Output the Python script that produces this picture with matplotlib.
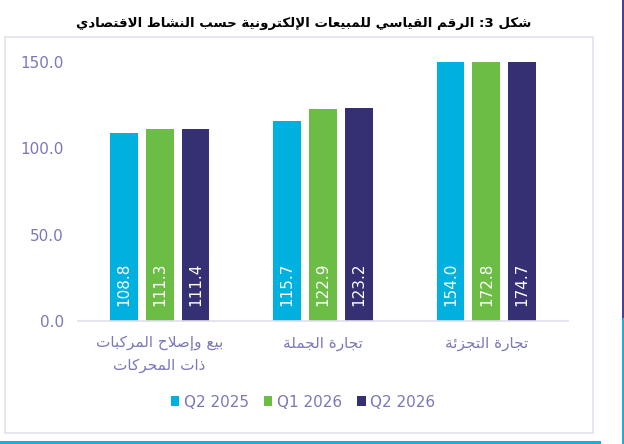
"""
Recreate: e-commerce sales index by economic activity (Figure 3).
Output: out.png (624x444)
"""

import numpy as np
import matplotlib
matplotlib.use("Agg")
import matplotlib.pyplot as plt
from matplotlib.patches import Rectangle

# --- data -----------------------------------------------------------------
TITLE = "شكل 3: الرقم القياسي للمبيعات الإلكترونية حسب النشاط الاقتصادي"
CATEGORIES = [
    "بيع وإصلاح المركبات\nذات المحركات",
    "تجارة الجملة",
    "تجارة التجزئة",
]
SERIES = ["Q2 2025", "Q1 2026", "Q2 2026"]
Q2_2025 = [108.8, 115.7, 154.0]
Q1_2026 = [111.3, 122.9, 172.8]
Q2_2026 = [111.4, 123.2, 174.7]
Y_TICKS = [0, 50, 100, 150]

COLORS = ["#00B0DE", "#6CBD45", "#352F73"]
LAVENDER = "#7B78B8"

# --- minimal arabic shaping (matplotlib has no bidi / joining) -------------
# (isolated, final, initial, medial); two-tuple = joins only to the right
FORMS = {
    "\u0627": (0xFE8D, 0xFE8E), "\u0625": (0xFE87, 0xFE88),
    "\u0623": (0xFE83, 0xFE84), "\u0622": (0xFE81, 0xFE82),
    "\u0628": (0xFE8F, 0xFE90, 0xFE91, 0xFE92),
    "\u0629": (0xFE93, 0xFE94),
    "\u062A": (0xFE95, 0xFE96, 0xFE97, 0xFE98),
    "\u062C": (0xFE9D, 0xFE9E, 0xFE9F, 0xFEA0),
    "\u062D": (0xFEA1, 0xFEA2, 0xFEA3, 0xFEA4),
    "\u062F": (0xFEA9, 0xFEAA), "\u0630": (0xFEAB, 0xFEAC),
    "\u0631": (0xFEAD, 0xFEAE), "\u0632": (0xFEAF, 0xFEB0),
    "\u0633": (0xFEB1, 0xFEB2, 0xFEB3, 0xFEB4),
    "\u0634": (0xFEB5, 0xFEB6, 0xFEB7, 0xFEB8),
    "\u0635": (0xFEB9, 0xFEBA, 0xFEBB, 0xFEBC),
    "\u0637": (0xFEC1, 0xFEC2, 0xFEC3, 0xFEC4),
    "\u0639": (0xFEC9, 0xFECA, 0xFECB, 0xFECC),
    "\u0642": (0xFED5, 0xFED6, 0xFED7, 0xFED8),
    "\u0643": (0xFED9, 0xFEDA, 0xFEDB, 0xFEDC),
    "\u0644": (0xFEDD, 0xFEDE, 0xFEDF, 0xFEE0),
    "\u0645": (0xFEE1, 0xFEE2, 0xFEE3, 0xFEE4),
    "\u0646": (0xFEE5, 0xFEE6, 0xFEE7, 0xFEE8),
    "\u0647": (0xFEE9, 0xFEEA, 0xFEEB, 0xFEEC),
    "\u0648": (0xFEED, 0xFEEE),
    "\u064A": (0xFEF1, 0xFEF2, 0xFEF3, 0xFEF4),
    "\u0626": (0xFE89, 0xFE8A, 0xFE8B, 0xFE8C),
}
LAM_ALEF = {"\u0627": (0xFEFB, 0xFEFC), "\u0625": (0xFEF9, 0xFEFA),
            "\u0623": (0xFEF7, 0xFEF8), "\u0622": (0xFEF5, 0xFEF6)}


def shape_line(text):
    out = []
    i = 0
    while i < len(text):
        c = text[i]
        if c not in FORMS:
            out.append(c)
            i += 1
            continue
        prev = text[i - 1] if i > 0 else ""
        joins_prev = prev in FORMS and len(FORMS[prev]) == 4
        nxt = text[i + 1] if i + 1 < len(text) else ""
        if c == "\u0644" and nxt in LAM_ALEF:
            out.append(chr(LAM_ALEF[nxt][1 if joins_prev else 0]))
            i += 2
            continue
        f = FORMS[c]
        joins_next = len(f) == 4 and nxt in FORMS
        if joins_prev and joins_next:
            out.append(chr(f[3]))
        elif joins_prev:
            out.append(chr(f[1]))
        elif joins_next:
            out.append(chr(f[2]))
        else:
            out.append(chr(f[0]))
        i += 1
    return "".join(out)[::-1]


def ar(text):
    return "\n".join(shape_line(line) for line in text.split("\n"))


# --- plot ------------------------------------------------------------------
plt.rcParams["font.family"] = ["DejaVu Sans"]

W, H = 624, 444
fig = plt.figure(figsize=(W / 100, H / 100), dpi=100)
fig.patch.set_facecolor("white")

# frame decoration
fig.patches.append(Rectangle((5 / W, 1 - 433 / H), 588 / W, 396 / H,
                             transform=fig.transFigure, fill=False,
                             edgecolor="#E3E1EF", linewidth=1.2))
fig.patches.append(Rectangle((0, 0), 601 / W, 3.5 / H,
                             transform=fig.transFigure, color="#1AAFD6",
                             linewidth=0))
fig.patches.append(Rectangle((621.5 / W, 1 - 318 / H), 2.5 / W, 318 / H,
                             transform=fig.transFigure, color="#4B3F98",
                             linewidth=0))
fig.patches.append(Rectangle((621.5 / W, 0), 2.5 / W, 1 - 318 / H,
                             transform=fig.transFigure, color="#1AAFD6",
                             linewidth=0))

fig.text(304 / W, 1 - 24 / H, ar(TITLE), ha="center", va="center",
         fontsize=9.6, fontweight="bold", color="black")

ax = fig.add_axes([78 / W, 1 - 321 / H, 490 / W, 259 / H])
x = np.arange(len(CATEGORIES))
width = 0.17
offset = 0.22
for k, (vals, col, name) in enumerate(zip([Q2_2025, Q1_2026, Q2_2026],
                                           COLORS, SERIES)):
    bars = ax.bar(x + (k - 1) * offset, vals, width, color=col, label=name)
    for b, v in zip(bars, vals):
        ax.annotate(f"{v:.1f}", (b.get_x() + b.get_width() / 2, 0),
                    xytext=(0, 11), textcoords="offset points",
                    ha="center", va="bottom", rotation=90,
                    color="white", fontsize=11)

ax.set_xlim(-0.5, len(CATEGORIES) - 0.5)
ax.set_ylim(0, 150)
ax.set_yticks(Y_TICKS)
ax.set_yticklabels([f"{t:.1f}" for t in Y_TICKS])
ax.set_xticks(x)
ax.set_xticklabels([ar(c) for c in CATEGORIES])
for s in ["top", "right", "left"]:
    ax.spines[s].set_visible(False)
ax.spines["bottom"].set_color("#E0DEEC")
ax.spines["bottom"].set_linewidth(1.2)
ax.tick_params(axis="both", length=0, colors=LAVENDER, labelsize=11)
ax.tick_params(axis="y", pad=10)
ax.tick_params(axis="x", pad=11)
for lbl in ax.get_xticklabels():
    lbl.set_linespacing(1.5)

leg = fig.legend(loc="center", bbox_to_anchor=(303 / W, 1 - 402 / H),
                 ncol=3, frameon=False, fontsize=11, handlelength=0.55,
                 handleheight=0.55, handletextpad=0.3, columnspacing=1.0)
for t in leg.get_texts():
    t.set_color(LAVENDER)

fig.savefig("out.png", dpi=100)
